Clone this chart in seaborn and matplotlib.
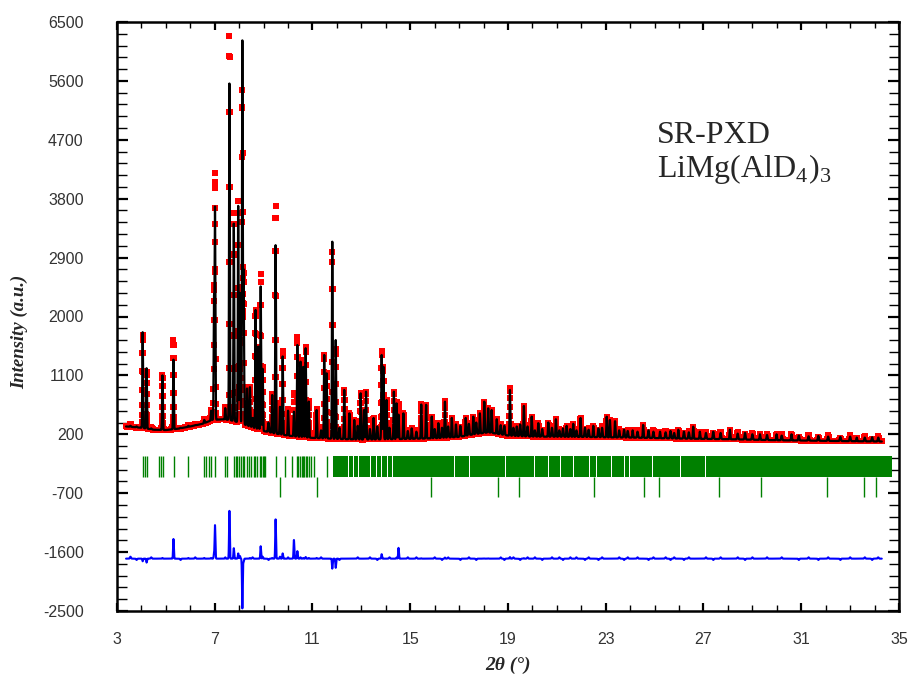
import numpy as np
import matplotlib
matplotlib.use("Agg")
import matplotlib.pyplot as plt
import seaborn as sns
from matplotlib.ticker import MultipleLocator, FixedLocator

# ---------------- data ----------------
# smooth background of the calculated profile (2theta, intensity)
bg_x = [3.37, 4.0, 4.5, 5.0, 5.5, 6.0, 6.5, 6.9, 7.3, 7.6, 8.0, 8.5, 9.0, 9.5,
        10.0, 10.5, 11.0, 12.0, 13.0, 14.0, 15.0, 16.0, 17.0, 17.6, 18.2, 19.0,
        20.0, 22.0, 24.0, 26.0, 28.0, 30.0, 32.0, 34.3]
bg_y = [320, 300, 270, 265, 285, 320, 360, 420, 430, 420, 380, 310, 250, 210,
        180, 160, 145, 130, 120, 125, 130, 140, 160, 200, 230, 180,
        165, 160, 150, 135, 125, 110, 100, 90]

# Bragg peaks: position, calculated apex, observed apex
peak_pos = [4.05, 4.21, 4.86, 5.31, 5.92, 6.57, 6.85, 6.97, 7.01, 7.43, 7.60,
            7.78, 7.96, 8.03, 8.13, 8.18, 8.32, 8.44, 8.67, 8.78, 8.88, 8.96,
            9.35, 9.49, 9.67, 9.78, 10.00, 10.24, 10.38, 10.51, 10.62, 10.72,
            10.85, 11.17, 11.48, 11.58, 11.81, 11.95, 12.30, 12.51, 12.71, 12.97,
            13.11, 13.19, 13.50, 13.83, 13.90, 14.03, 14.33, 14.44, 14.52, 14.72,
            15.06, 15.45, 15.65, 15.88, 16.15, 16.42, 16.70, 16.87, 17.27, 17.58,
            17.85, 18.03, 18.19, 18.33, 18.54, 19.08, 19.36, 19.65, 19.97, 20.24,
            20.65, 20.96, 21.40, 21.67, 21.97, 22.49, 23.04, 23.17, 23.38, 24.10,
            24.53, 25.22, 25.97, 26.58, 26.85, 28.08, 29.31, 29.99, 30.60, 33.27]
peak_calc = [1760, 1210, 1100, 1340, 330, 420, 560, 2230, 3630, 600, 5560,
             3420, 3690, 2360, 6210, 2700, 900, 920, 2100, 1540, 2460, 1200,
             800, 3090, 620, 1390, 560, 545, 1565, 1310, 1230, 1515,
             700, 570, 1412, 1132, 3143, 1640, 877, 520, 418, 826,
             571, 851, 450, 1412, 1233, 724, 851, 673, 500, 520,
             291, 655, 650, 470, 370, 698, 450, 350, 450, 470,
             520, 698, 597, 570, 430, 877, 320, 633, 470, 370,
             380, 430, 330, 360, 449, 330, 469, 418, 400, 260,
             342, 240, 270, 316, 240, 270, 200, 200, 200, 150]
peak_obs = [1720, 1150, 1110, 1640, 340, 430, 570, 2300, 4140, 620, 6290,
            3580, 3770, 2400, 5450, 2650, 900, 930, 2100, 1540, 2650, 1230,
            810, 3690, 650, 1470, 580, 830, 1680, 1330, 1240, 1540,
            710, 580, 1412, 1132, 2990, 1500, 877, 520, 418, 826,
            571, 851, 450, 1480, 1233, 724, 851, 690, 665, 520,
            291, 660, 650, 470, 370, 715, 450, 350, 450, 470,
            520, 700, 600, 570, 430, 900, 320, 640, 470, 370,
            380, 430, 330, 360, 449, 330, 469, 418, 400, 260,
            342, 240, 270, 316, 240, 270, 200, 200, 200, 150]

# weak reflections that make the busy high-angle part: position, calc, obs
weak_pos = [3.55, 3.80, 4.40, 5.60, 6.20, 8.55, 9.20, 11.35, 12.10, 12.85,
            13.35, 13.65, 14.15, 14.90, 15.25, 16.00, 16.30, 16.55, 17.05,
            17.40, 17.70, 18.70, 18.85, 19.22, 19.50, 19.80, 20.10, 20.40,
            20.80, 21.10, 21.25, 21.55, 21.80, 22.15, 22.30, 22.70, 22.85,
            23.55, 23.75, 23.90, 24.30, 24.75, 24.95, 25.45, 25.65, 25.80,
            26.20, 26.40, 27.10, 27.40, 27.70, 28.40, 28.70, 29.00, 29.60,
            30.20, 30.90, 31.30, 31.70, 32.10, 32.60, 33.00, 33.60, 33.90, 34.15]
weak_calc = [330, 320, 290, 300, 340, 450, 380, 260, 300, 330,
             280, 320, 300, 250, 240, 280, 300, 320, 330,
             360, 380, 340, 330, 300, 350, 320, 260, 280,
             300, 260, 290, 280, 260, 300, 270, 290, 300,
             260, 270, 250, 240, 260, 240, 230, 250, 220,
             240, 230, 220, 240, 220, 210, 220, 200, 190,
             180, 180, 170, 175, 165, 160, 165, 150, 155, 150]
weak_obs = [360, 300, 310, 280, 360, 470, 360, 280, 280, 350,
            300, 300, 320, 270, 260, 300, 280, 340, 310,
            380, 360, 360, 310, 320, 330, 340, 280, 260,
            320, 280, 270, 300, 280, 280, 290, 270, 320,
            280, 250, 270, 260, 240, 260, 250, 230, 240,
            220, 250, 240, 220, 240, 230, 200, 220, 210,
            200, 160, 190, 155, 185, 140, 185, 170, 135, 170]

# reflection markers, phase 1 (resolved) and its unresolved region with gaps
phase1_refl = [4.08, 4.13, 4.24, 4.73, 4.80, 4.87, 5.33, 5.92, 6.57, 6.64,
               6.78, 6.85, 7.02, 7.43, 7.50, 7.80, 7.86, 7.92, 8.00, 8.06,
               8.14, 8.20, 8.32, 8.40, 8.47, 8.59, 8.66, 8.72, 8.85, 8.90,
               8.96, 9.01, 9.07, 9.49, 9.87, 10.17, 10.35, 10.42, 10.48,
               10.55, 10.60, 10.66, 10.72, 10.78, 10.85, 10.95, 11.05, 11.58]
phase1_dense = (11.82, 34.71)
phase1_gaps = [12.47, 12.67, 12.87, 13.38, 13.62, 13.83, 14.06, 14.28,
               16.83, 17.44, 18.55, 18.88, 20.10, 20.64, 21.13, 21.70, 22.35,
               22.64, 23.25, 23.75, 23.99, 24.93, 26.04, 26.98, 27.10]
# phase 2
phase2_refl = [9.67, 11.20, 15.85, 18.59, 19.45, 22.52, 24.56, 25.19, 27.64,
               29.35, 32.04, 33.58, 34.06]

diff_offset = -1700
x_ticks = [3, 7, 11, 15, 19, 23, 27, 31, 35]
y_ticks = [-2500, -1600, -700, 200, 1100, 2000, 2900, 3800, 4700, 5600, 6500]

# ---------------- profile ----------------
tt = np.arange(3.37, 34.30, 0.005)
bg = np.interp(tt, bg_x, bg_y)
calc = bg.copy()
obs = bg.copy()
for P, C, O, sig in ((peak_pos, peak_calc, peak_obs, 0.015),
                     (weak_pos, weak_calc, weak_obs, 0.02)):
    for p, c, o in zip(P, C, O):
        b = np.interp(p, bg_x, bg_y)
        g = np.exp(-0.5 * ((tt - p) / sig) ** 2)
        calc += (c - b) * g
        obs += (o - b) * g
diff = obs - calc + diff_offset

# ---------------- figure ----------------
sns.set_style("ticks")
plt.rcParams['mathtext.fontset'] = 'custom'
plt.rcParams['mathtext.rm'] = 'Liberation Serif'
plt.rcParams['axes.unicode_minus'] = False
fig = plt.figure(figsize=(9.10, 6.79), dpi=100)
ax = fig.add_axes([117 / 910, 68 / 679, 782 / 910, 589 / 679])

sns.scatterplot(x=tt, y=obs, marker='s', s=17, color='#ff0000', linewidth=0,
                ax=ax, zorder=2, legend=False)
sns.lineplot(x=tt, y=calc, color='black', lw=1.6, ax=ax, zorder=3,
             estimator=None, sort=False)
sns.lineplot(x=tt, y=diff, color='#0000ff', lw=1.5, ax=ax, zorder=3,
             estimator=None, sort=False)

green = '#008000'
ax.vlines(phase1_refl, -452, -131, color=green, lw=1.0)
edges = [phase1_dense[0]] + phase1_gaps + [phase1_dense[1]]
blocks = []
for i in range(len(edges) - 1):
    s = edges[i] + (0.02 if i > 0 else 0)
    e = edges[i + 1] - (0.02 if i < len(edges) - 2 else 0)
    blocks.append((s, e - s))
ax.broken_barh(blocks, (-452, 321), facecolors=green, edgecolor='none')
ax.vlines(phase2_refl, -758, -452, color=green, lw=1.0)

ax.set_xlim(3, 35)
ax.set_ylim(-2500, 6500)
ax.xaxis.set_major_locator(FixedLocator(x_ticks))
ax.xaxis.set_minor_locator(MultipleLocator(1))
ax.yaxis.set_major_locator(FixedLocator(y_ticks))
ax.yaxis.set_minor_locator(FixedLocator(np.arange(-2500, 6501, 180)))
ax.tick_params(which='both', direction='in', top=True, right=True,
               colors='black', labelcolor='#333333')
ax.tick_params(axis='y', which='major', length=8, width=1.6, pad=24)
ax.tick_params(axis='y', which='minor', length=7, width=1.0)
ax.tick_params(axis='x', which='major', length=5.5, width=1.6, pad=15)
ax.tick_params(axis='x', which='minor', length=4, width=1.0)
for lab in ax.get_xticklabels() + ax.get_yticklabels():
    lab.set_fontfamily('Liberation Sans')
    lab.set_fontsize(11.5)
for sp in ax.spines.values():
    sp.set_linewidth(1.8)
    sp.set_color('black')

ax.set_xlabel('2θ (°)', fontfamily='Liberation Serif', fontweight='bold',
              fontstyle='italic', fontsize=14)
ax.xaxis.set_label_coords(0.5, (611 - 665) / 589)
ax.xaxis.label.set_va('center')
ax.set_ylabel('Intensity (a.u.)', fontfamily='Liberation Serif', fontweight='bold',
              fontstyle='italic', fontsize=13.5)
ax.yaxis.set_label_coords((20 - 117) / 782, (611 - 332) / 589)
ax.yaxis.label.set_va('center')

ax.text(25.1, 4647, 'SR-PXD', fontfamily='Liberation Serif', fontsize=23,
        va='baseline', ha='left')
ax.text(25.1, 4127, 'LiMg(AlD$_\\mathrm{4}$)$_\\mathrm{3}$',
        fontfamily='Liberation Serif', fontsize=23, va='baseline', ha='left')

fig.savefig('out.png', dpi=100, facecolor='white')
